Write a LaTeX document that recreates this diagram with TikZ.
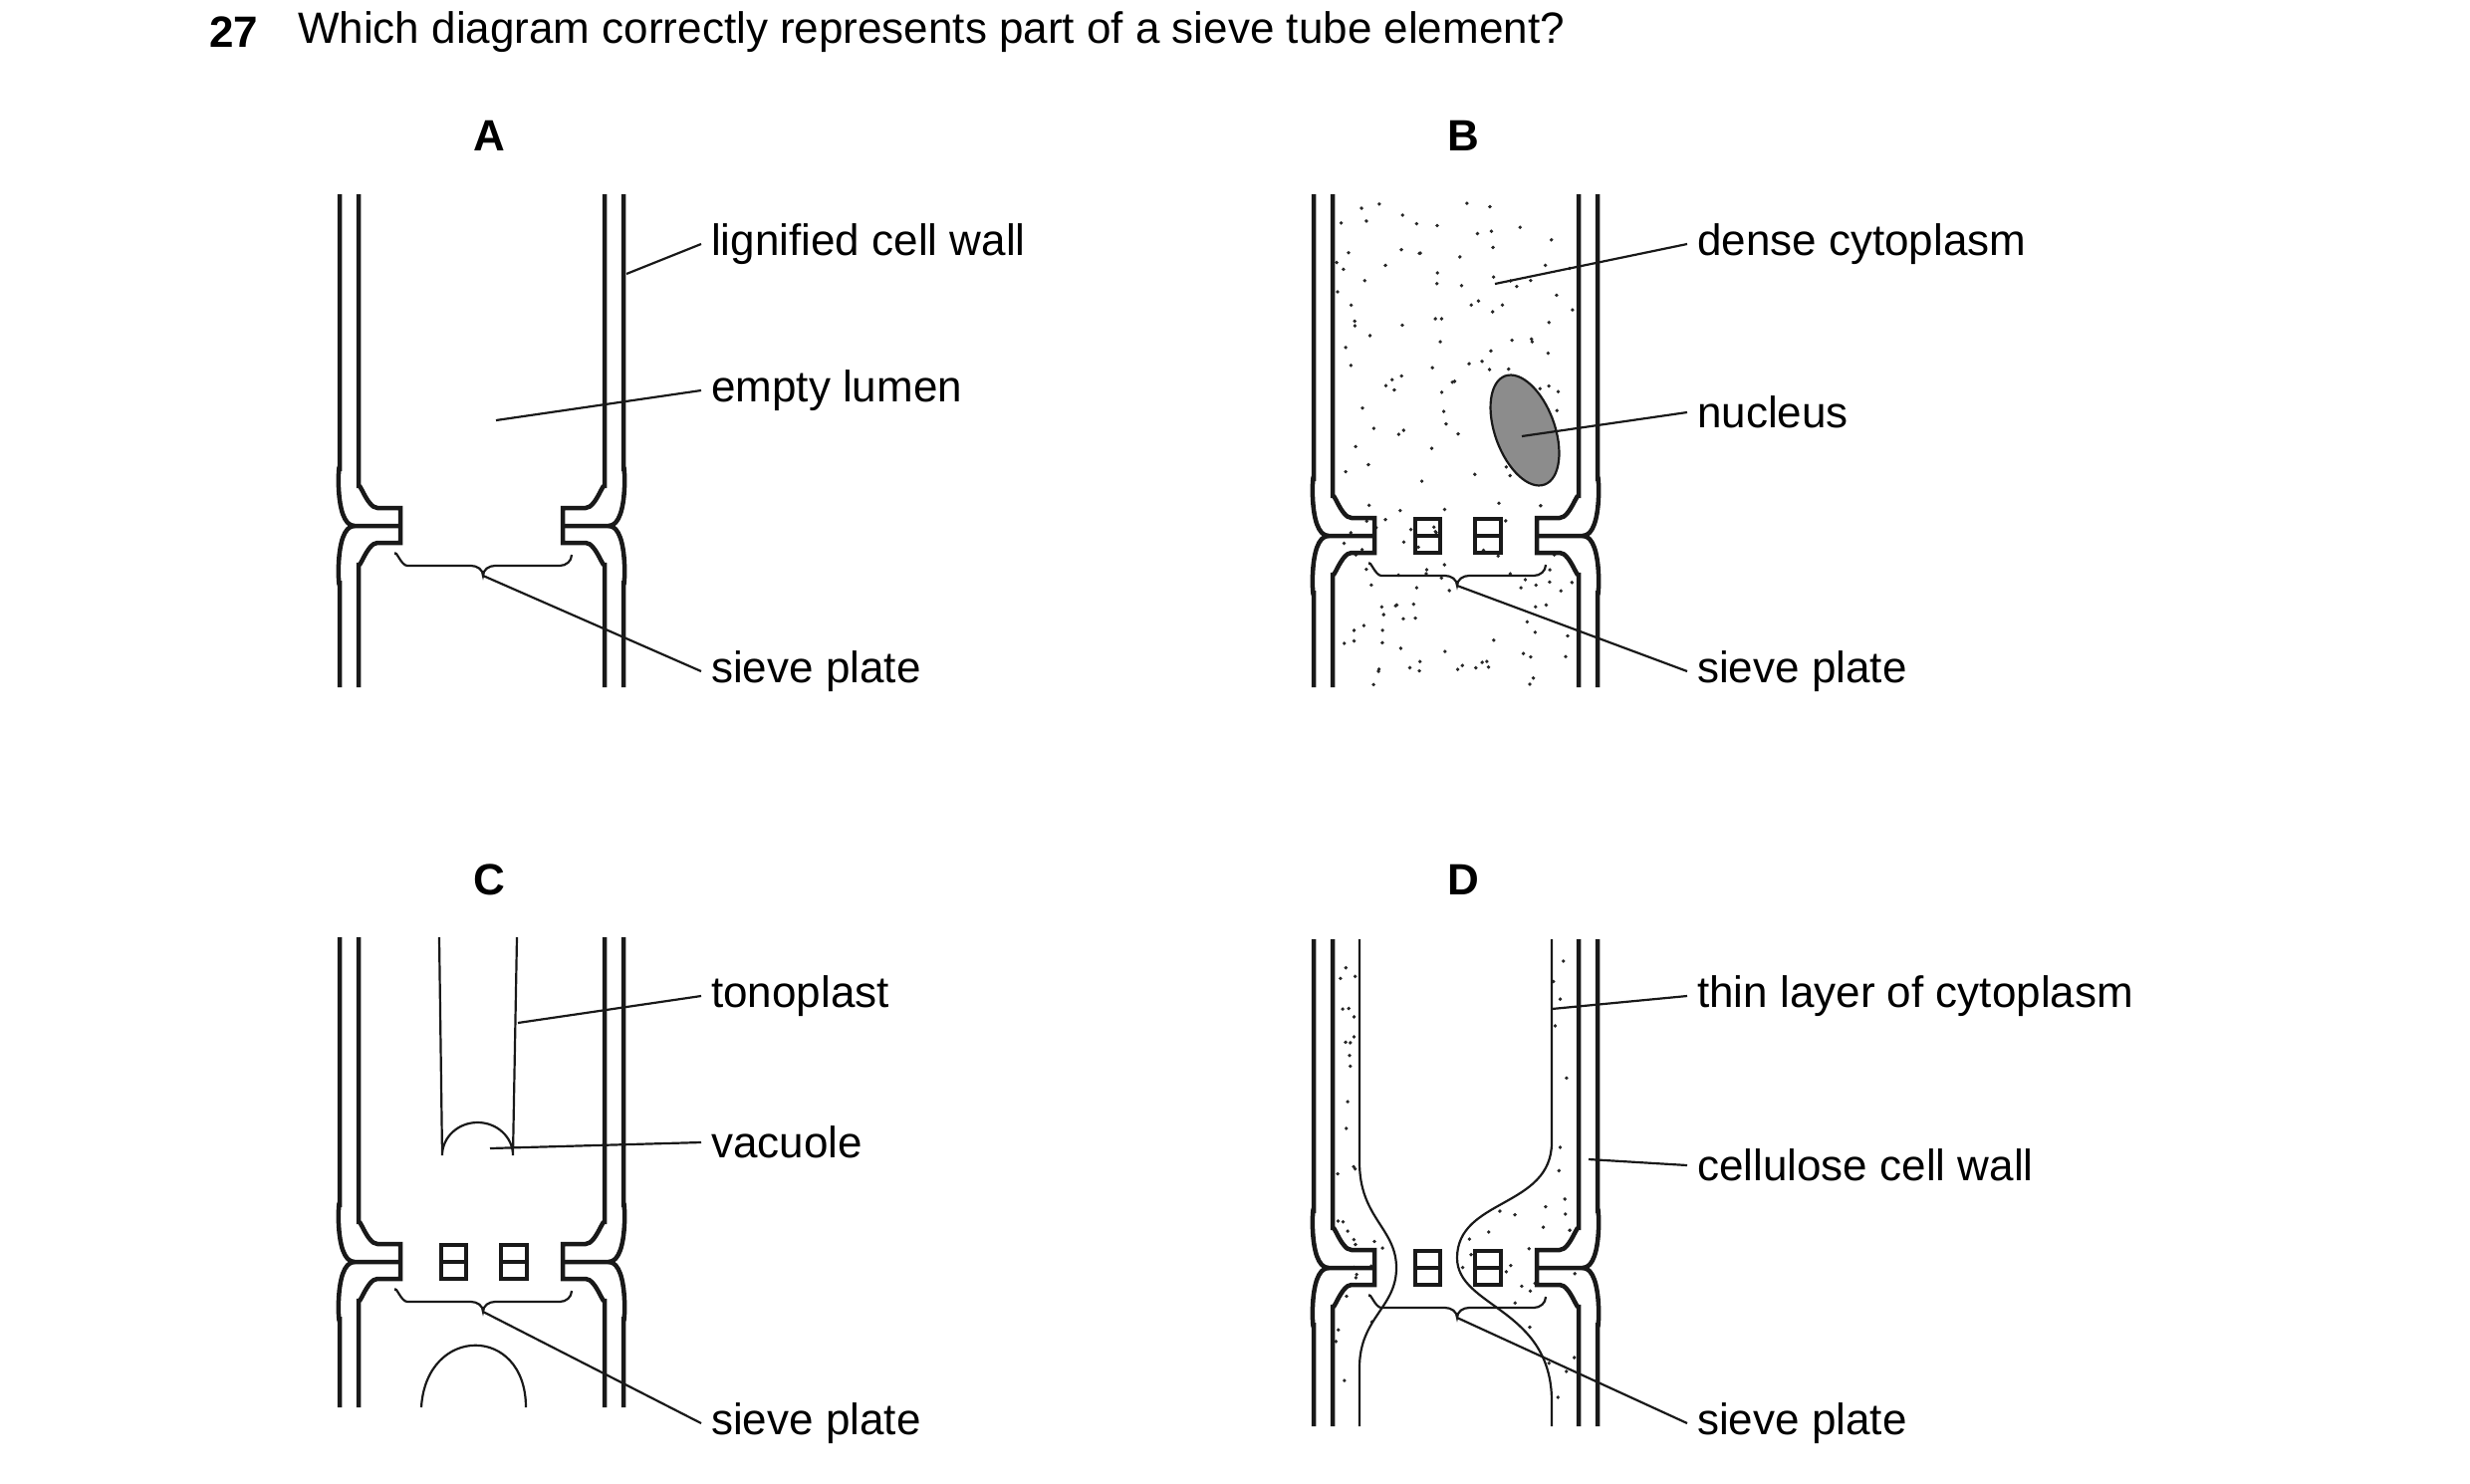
\documentclass[tikz,border=0pt]{standalone}
\usepackage{fontspec}
\setmainfont{Liberation Sans}
\begin{document}
\begin{tikzpicture}[x=1pt,y=-1pt,
  wall/.style={line width=4.5pt,black!90},
  thin/.style={line width=2.2pt,black!90},
  lab/.style={anchor=west,inner sep=0pt,font=\fontsize{44}{50}\selectfont},
  head/.style={inner sep=0pt,font=\fontsize{44}{50}\selectfont\bfseries},
  dot/.style={fill=black!85}]
\useasboundingbox (0,0) rectangle (2480,1489);
% #1 x of left outer wall, #2 top, #3 junction, #4 bottom
\newcommand\sievecell[4]{%
\begin{scope}[shift={(#1,#3)}]
 \draw[wall] (0,#2-#3) -- (0,-55) to[out=90,in=180] (15,0) -- (61,0);
 \draw[wall] (0,#4-#3) -- (0,55) to[out=-90,in=180] (15,0);
 \draw[wall] (19,#2-#3) -- (19,-38) to[out=90,in=180] (38,-18) -- (61,-18) -- (61,17) -- (38,17) to[out=180,in=-90] (19,37) -- (19,#4-#3);
 \draw[wall] (285,#2-#3) -- (285,-55) to[out=90,in=0] (270,0) -- (224,0);
 \draw[wall] (285,#4-#3) -- (285,55) to[out=-90,in=0] (270,0);
 \draw[wall] (266,#2-#3) -- (266,-38) to[out=90,in=0] (247,-18) -- (224,-18) -- (224,17) -- (247,17) to[out=0,in=-90] (266,37) -- (266,#4-#3);
 \draw[thin] (56,29) to[out=90,in=180] (68,40) -- (132,40) to[out=0,in=90] (144,50) to[out=90,in=180] (156,40) -- (221,40) to[out=0,in=-90] (233,29);
 \coordinate (tip) at (144,50);
\end{scope}}
\newcommand\pores[2]{%
\begin{scope}[shift={(#1,#2)}]
 \draw[wall] (102,-17) rectangle (127,17) (102,0) -- (127,0);
 \draw[wall] (162,-17) rectangle (188,17) (162,0) -- (188,0);
\end{scope}}

% title
\node[head,anchor=west] (q) at (210,32) {27};
\node[lab] (qt) at (299,32) {Which diagram correctly represents part of a sieve tube element?};
\node[head] (hA) at (491,136) {A};
\node[head] (hB) at (1469,136) {B};
\node[head] (hC) at (491,883) {C};
\node[head] (hD) at (1469,883) {D};

% ---------- A
\sievecell{341}{195}{528}{690}
\coordinate (tA) at (tip);
\node[lab] (a1) at (714,245) {lignified cell wall};
\node[lab] (a2) at (714,392) {empty lumen};
\node[lab] (a3) at (714,674) {sieve plate};
\coordinate (pa1) at (629,275);
\coordinate (pa2) at (498,422);
\draw[thin] (pa1) -- ([xshift=-10pt]a1.west);
\draw[thin] (pa2) -- ([xshift=-10pt]a2.west);
\draw[thin] (tA) -- ([xshift=-10pt]a3.west);

% ---------- B
\begin{scope}
 \clip (1338,195) rectangle (1585,690);
 \pgfmathsetseed{7}
 \foreach \i in {1,...,170}{
   \pgfmathsetmacro\xx{1342+240*rnd}
   \pgfmathsetmacro\yy{200+488*rnd}
   \fill[dot] (\xx,\yy) circle (1.9);
 }
\end{scope}
\sievecell{1319}{195}{538}{690}
\coordinate (tB) at (tip);
\pores{1319}{538}
\draw[thin,fill=black!45] (1531,432) ellipse[x radius=30,y radius=58,rotate=20];
\node[lab] (b1) at (1704,245) {dense cytoplasm};
\node[lab] (b2) at (1704,414) {nucleus};
\node[lab] (b3) at (1704,674) {sieve plate};
\coordinate (pb1) at (1501,285);
\coordinate (pb2) at (1528,438);
\draw[thin] (pb1) -- ([xshift=-10pt]b1.west);
\draw[thin] (pb2) -- ([xshift=-10pt]b2.west);
\draw[thin] (tB) -- ([xshift=-10pt]b3.west);

% ---------- C
\sievecell{341}{941}{1267}{1413}
\coordinate (tC) at (tip);
\pores{341}{1267}
\draw[thin] (441,941) -- (444,1160) arc[start angle=180,end angle=360,x radius=35.5,y radius=33] -- (519,941);
\draw[thin] (423,1413) .. controls (428,1330) and (528,1330) .. (528,1413);
\node[lab] (c1) at (714,1000) {tonoplast};
\node[lab] (c2) at (714,1147) {vacuole};
\node[lab] (c3) at (714,1429) {sieve plate};
\coordinate (pc1) at (520,1027);
\coordinate (pc2) at (492,1153);
\draw[thin] (pc1) -- ([xshift=-10pt]c1.west);
\draw[thin] (pc2) -- ([xshift=-10pt]c2.west);
\draw[thin] (tC) -- ([xshift=-10pt]c3.west);

% ---------- D
\begin{scope}[shift={(1319,1273)}]
 \begin{scope}
  \clip (19,-330) -- (46,-330) -- (46,-106) .. controls (46,-50) and (83,-40) .. (83,0) .. controls (83,40) and (46,50) .. (46,100) -- (46,159) -- (19,159) -- cycle;
  \pgfmathsetseed{11}
  \foreach \i in {1,...,60}{
    \pgfmathsetmacro\xx{22+60*rnd}
    \pgfmathsetmacro\yy{-325+480*rnd}
    \fill[dot] (\xx,\yy) circle (1.9);
  }
 \end{scope}
 \begin{scope}
  \clip (266,-330) -- (239,-330) -- (239,-126) .. controls (239,-60) and (144,-70) .. (144,-10) .. controls (144,40) and (239,40) .. (239,134) -- (239,159) -- (266,159) -- cycle;
  \pgfmathsetseed{5}
  \foreach \i in {1,...,80}{
    \pgfmathsetmacro\xx{148+115*rnd}
    \pgfmathsetmacro\yy{-325+480*rnd}
    \fill[dot] (\xx,\yy) circle (1.9);
  }
 \end{scope}
 \draw[thin] (46,-330) -- (46,-106) .. controls (46,-50) and (83,-40) .. (83,0) .. controls (83,40) and (46,50) .. (46,100) -- (46,159);
 \draw[thin] (239,-330) -- (239,-126) .. controls (239,-60) and (144,-70) .. (144,-10) .. controls (144,40) and (239,40) .. (239,134) -- (239,159);
\end{scope}
\sievecell{1319}{943}{1273}{1432}
\coordinate (tD) at (tip);
\pores{1319}{1273}
\node[lab] (d1) at (1704,1000) {thin layer of cytoplasm};
\node[lab] (d2) at (1704,1170) {cellulose cell wall};
\node[lab] (d3) at (1704,1429) {sieve plate};
\coordinate (pd1) at (1558,1013);
\coordinate (pd2) at (1595,1164);
\draw[thin] (pd1) -- ([xshift=-10pt]d1.west);
\draw[thin] (pd2) -- ([xshift=-10pt]d2.west);
\draw[thin] (tD) -- ([xshift=-10pt]d3.west);
\end{tikzpicture}
\end{document}
